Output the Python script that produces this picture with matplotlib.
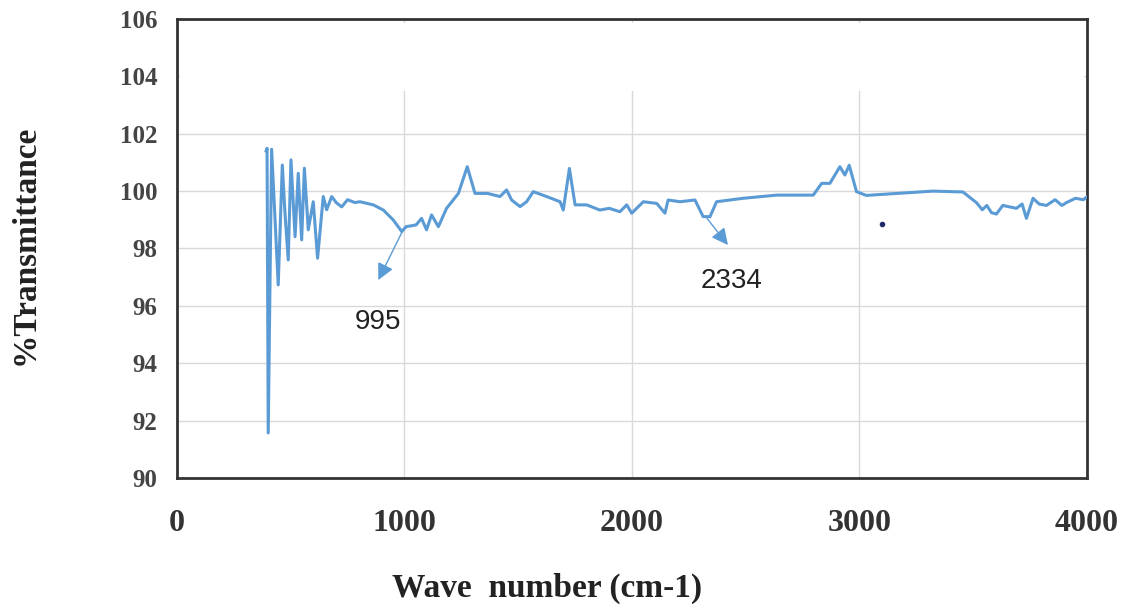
import matplotlib
matplotlib.use("Agg")
from matplotlib import pyplot as plt
from matplotlib.patches import Rectangle
import matplotlib.transforms as mtransforms

# FTIR spectrum
wavenumber = [392, 396, 401, 416, 445, 463, 475, 489, 501, 519, 533, 548, 560, 577,
              599, 618, 643, 658, 680, 700, 724, 750, 782, 804, 863, 907, 950,
              988, 1007, 1051, 1075, 1097, 1119, 1149, 1185, 1237, 1276, 1310,
              1365, 1420, 1449, 1471, 1508, 1537, 1566, 1625, 1684, 1698, 1725,
              1750, 1801, 1859, 1900, 1947, 1977, 1999, 2050, 2109, 2145, 2159,
              2211, 2277, 2313, 2343, 2372, 2489, 2636, 2797, 2834, 2870, 2914,
              2936, 2955, 2987, 3030, 3323, 3455, 3514, 3540, 3560, 3580, 3602,
              3630, 3660, 3690, 3715, 3734, 3763, 3790, 3822, 3860, 3890, 3910,
              3950, 3984, 4000]
transmittance = [101.4, 101.49, 91.57, 101.46, 96.73, 100.91, 99.2, 97.6, 101.09, 98.41,
                 100.62, 98.3, 100.8, 98.65, 99.63, 97.66, 99.81, 99.35, 99.81, 99.6,
                 99.45, 99.7, 99.6, 99.63, 99.52, 99.34, 99.0, 98.59, 98.76, 98.82,
                 99.05, 98.65, 99.17, 98.76, 99.4, 99.92, 100.85, 99.92, 99.92, 99.81,
                 100.04, 99.69, 99.46, 99.63, 99.98, 99.81, 99.63, 99.34, 100.79,
                 99.52, 99.52, 99.34, 99.4, 99.28, 99.52, 99.23, 99.63, 99.57, 99.23,
                 99.69, 99.63, 99.69, 99.11, 99.11, 99.63, 99.75, 99.86, 99.86,
                 100.27, 100.27, 100.85, 100.56, 100.9, 99.98, 99.85, 100.0, 99.97,
                 99.6, 99.35, 99.5, 99.25, 99.2, 99.5, 99.45, 99.4, 99.55, 99.05,
                 99.75, 99.55, 99.5, 99.7, 99.5, 99.6, 99.75, 99.7, 99.8]

# peak labels with the peak point, arrow head and text position
peak_labels = ["995", "2334"]
peak_xy = [(991, 98.6), (2330, 99.05)]
head_xy = [(885, 96.9), (2422, 98.12)]
text_xy = [(884, 95.45), (2440, 96.85)]

stray_dot = (3099, 98.85)

blue = "#5B9BD5"

fig = plt.figure(figsize=(11.28, 6.10), dpi=100)
ax = fig.add_axes([0.1569, 0.2164, 0.8067, 0.7525])

ax.plot(wavenumber, transmittance, color=blue, lw=2.2, zorder=3)

for lab, p, h, t in zip(peak_labels, peak_xy, head_xy, text_xy):
    ax.annotate("", xy=h, xytext=p,
                arrowprops=dict(arrowstyle="-|>,head_length=1.0,head_width=0.5",
                                color=blue, lw=1.0, shrinkA=0, shrinkB=0),
                zorder=4)
    ax.text(t[0], t[1], lab, ha="center", va="center", fontsize=20,
            family="Liberation Sans", color="#222222", zorder=4)

ax.plot(*stray_dot, "o", color="#1f2a6b", ms=3, zorder=4)

ax.set_xlim(0, 4000)
ax.set_ylim(90, 106)
ax.set_xticks([0, 1000, 2000, 3000, 4000])
ax.set_yticks(range(90, 107, 2))
ax.grid(True, color="#d9d9d9", lw=1.0, zorder=0)
ax.set_axisbelow(True)

# washed-out strip at the top of the scanned figure
trans = mtransforms.blended_transform_factory(ax.transAxes, ax.transData)
ax.add_patch(Rectangle((0.003, 103.5), 0.994, 2.35, transform=trans,
                       facecolor="white", edgecolor="none", zorder=1))

for s in ax.spines.values():
    s.set_color("#333333")
    s.set_linewidth(2.0)

ax.tick_params(axis="both", length=0)
ax.tick_params(axis="x", pad=22, labelsize=23, labelcolor="#333333")
ax.tick_params(axis="y", pad=14, labelsize=18, labelcolor="#444444")
for lbl in ax.get_xticklabels() + ax.get_yticklabels():
    lbl.set_family("Liberation Serif")
    lbl.set_fontweight("bold")

fig.text(0.022, 0.598, "%Transmittance", rotation=90, ha="center", va="center",
         fontsize=24, fontweight="bold", family="Liberation Serif", color="#222222")
fig.text(0.485, 0.035, "Wave  number (cm-1)", ha="center", va="center",
         fontsize=24, fontweight="bold", family="Liberation Serif", color="#222222")

fig.savefig("out.png", dpi=100)
